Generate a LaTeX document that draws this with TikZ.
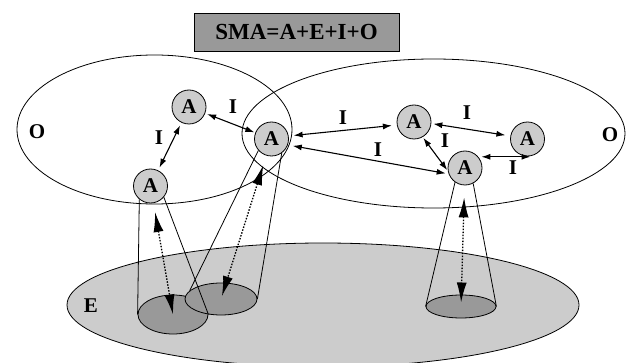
\documentclass[tikz,border=0pt]{standalone}
\usepackage{fontspec}
\setmainfont{Liberation Serif}
\usetikzlibrary{arrows.meta,shapes.geometric}
\definecolor{lightg}{HTML}{CCCCCC}
\definecolor{darkg}{HTML}{999999}
\begin{document}
\begin{tikzpicture}[x=1pt,y=-1pt,
  txt/.style={font=\fontsize{21}{25}\selectfont\bfseries, inner sep=0pt},
  agent/.style={circle, draw, line width=0.8pt, fill=lightg, minimum size=34pt, inner sep=0pt, font=\fontsize{21}{25}\selectfont\bfseries},
  spot/.style={ellipse, draw, line width=0.8pt, fill=darkg, inner sep=0pt},
  thin/.style={line width=0.8pt},
  bi/.style={line width=1.1pt, {Latex[length=9pt,width=6pt]}-{Latex[length=9pt,width=6pt]}},
  dotarr/.style={line width=1.3pt, dash pattern=on 1.5pt off 1.5pt, {Latex[length=20pt,width=10pt]}-{Latex[length=20pt,width=10pt]}}
]
\useasboundingbox (0,0) rectangle (634,363);

% environment E
\draw[thin, fill=lightg] (323,305) ellipse [x radius=256pt, y radius=62pt];
\node[txt] (lE) at (91,306) {E};

% spots on the environment
\node[spot, minimum width=70pt, minimum height=39pt] (e1) at (173,314.5) {};
\node[spot, minimum width=72pt, minimum height=32pt] (e2) at (221,299) {};
\node[spot, minimum width=70pt, minimum height=23pt] (e3) at (461,306.5) {};

% organisations O
\draw[thin] (154.5,129.5) ellipse [x radius=137.5pt, y radius=74.5pt];
\draw[thin] (433.5,133.5) ellipse [x radius=191.5pt, y radius=74.5pt];
\node[txt] (lO1) at (37,132) {O};
\node[txt] (lO2) at (610,135) {O};

% title
\node[draw, thin, fill=darkg, minimum width=205pt, minimum height=38pt,
      font=\fontsize{23}{27}\selectfont\bfseries] (title) at (296.5,32) {SMA=A+E+I+O};

% agents
\node[agent] (A1) at (189,107) {A};
\node[agent] (A2) at (271.5,139) {A};
\node[agent] (A3) at (150.5,186) {A};
\node[agent] (A4) at (414,122) {A};
\node[agent] (A5) at (527.5,139) {A};
\node[agent] (A6) at (465,168) {A};

% cones
\draw[thin] (A3.-130) -- (e1.west);
\draw[thin] (A3.-40) -- (e1.east);
\draw[thin] (A2.-139) -- (e2.165);
\draw[thin] (A2.-54) -- (e2.east);
\draw[thin] (A6.-125) -- (e3.west);
\draw[thin] (A6.-62) -- (e3.east);

% perception / action arrows
\draw[dotarr, shorten <=9pt] (A3) -- (e1.center);
\draw[dotarr, shorten <=10pt, shorten >=3pt] (A2) -- (e2.center);
\draw[dotarr, shorten <=12pt, shorten >=4pt] (A6) -- (e3.center);

% interactions
\draw[bi, shorten <=3pt, shorten >=3pt] (A1) -- (A3);
\draw[bi, shorten <=2pt, shorten >=1pt] (A1) -- (A2);
\draw[bi, shorten <=5pt, shorten >=5pt] (A2.10) -- (A4.190);
\draw[bi, shorten <=5pt, shorten >=3pt] (A2.-20) -- (A6.200);
\draw[bi, shorten <=2pt, shorten >=5pt] (A4.-5) -- (A5.170);
\draw[bi, shorten <=1pt, shorten >=1pt] (A4.-60) -- (A6.190);
\draw[bi, shorten <=3pt, shorten >=-3pt] (A6.40) -- (A6.40 -| A5);

% interaction labels
\node[txt] (i1) at (159,138) {I};
\node[txt] (i2) at (233,107) {I};
\node[txt] (i3) at (343,118) {I};
\node[txt] (i4) at (378,150) {I};
\node[txt] (i5) at (467,113) {I};
\node[txt] (i6) at (445,141) {I};
\node[txt] (i7) at (513,168) {I};
\end{tikzpicture}
\end{document}
